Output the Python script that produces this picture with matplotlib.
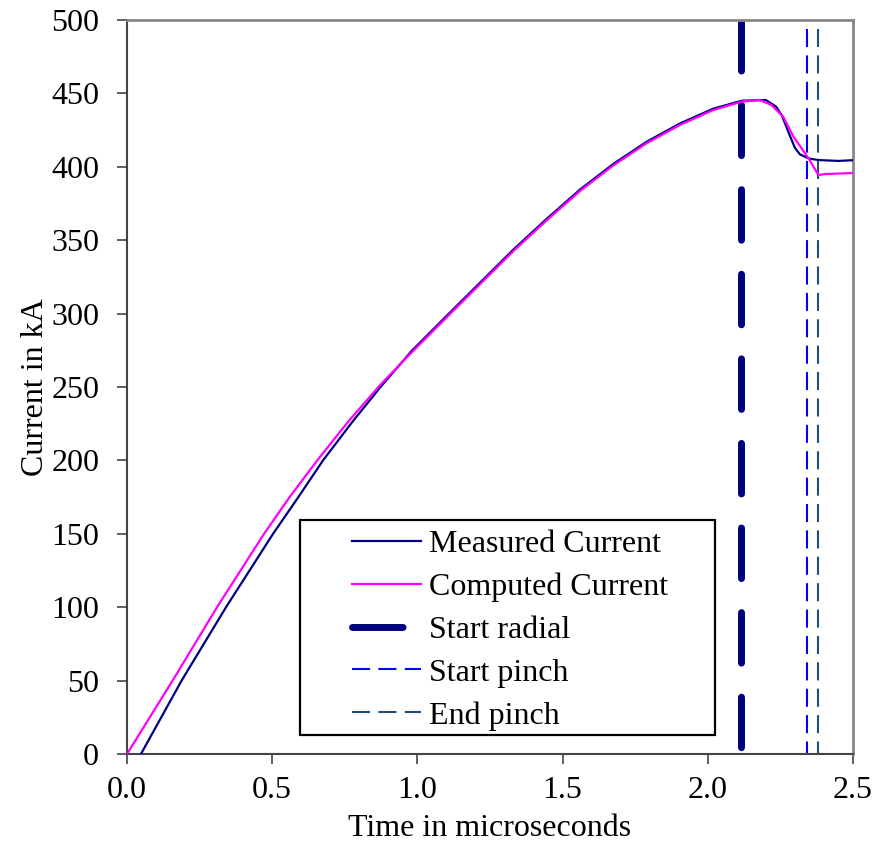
import matplotlib
matplotlib.use("Agg")
import matplotlib.pyplot as plt
from matplotlib.patches import Rectangle

plt.rcParams['font.family'] = ['Liberation Serif', 'DejaVu Serif']
plt.rcParams['lines.scale_dashes'] = False

# Data
t_measured = [0.048, 0.188, 0.341, 0.503, 0.59, 0.675, 0.775, 0.875, 0.98, 1.101, 1.2155,
              1.330, 1.445, 1.560, 1.675, 1.789, 1.904, 2.019, 2.117, 2.20, 2.235,
              2.255, 2.271, 2.285, 2.30, 2.317, 2.347, 2.381, 2.45, 2.5]
I_measured = [0, 50, 100, 150, 175, 200, 226, 250.5, 274.5, 298.5, 321,
              343.5, 364.5, 384.5, 402, 417, 429.5, 439.6, 445, 445.5, 441,
              435, 427, 420, 413, 408.5, 405.7, 404.6, 404, 404.5]

t_computed = [0, 0.157, 0.31, 0.472, 0.56, 0.655, 0.76, 0.87, 0.98, 1.101, 1.2155,
              1.330, 1.445, 1.560, 1.675, 1.789, 1.904, 2.019, 2.117, 2.18, 2.22,
              2.26, 2.295, 2.347, 2.381, 2.40, 2.5]
I_computed = [0, 50, 100, 150, 175, 200, 226, 251, 273.5, 297.5, 320,
              342.5, 363.5, 383.5, 401, 416, 428.5, 438.7, 444.4, 445.5, 442,
              434, 420.5, 405.7, 394.4, 395, 395.8]

t_start_radial = 2.114
t_start_pinch = 2.342
t_end_pinch = 2.379

x_ticks = [0.0, 0.5, 1.0, 1.5, 2.0, 2.5]
y_ticks = [0, 50, 100, 150, 200, 250, 300, 350, 400, 450, 500]

FS = 23

fig = plt.figure(figsize=(8.72, 8.52), dpi=100)
ax = fig.add_axes([127/872, 98/852, 726/872, 734/852])

ax.plot(t_measured, I_measured, color='#000080', lw=1.6, label='Measured Current', zorder=3)
ax.plot(t_computed, I_computed, color='#FF00FF', lw=1.6, label='Computed Current', zorder=3)
ax.plot([t_start_radial, t_start_radial], [500, 0], color='#000080', lw=5,
        dashes=(36.4, 24.5), dash_capstyle='round', solid_capstyle='round',
        label='Start radial', zorder=2)
ax.plot([t_start_pinch, t_start_pinch], [494, 0], color='#0000FF', lw=1.5,
        dashes=(13, 6), label='Start pinch', zorder=2)
ax.plot([t_end_pinch, t_end_pinch], [494, 0], color='#1F4E79', lw=1.5,
        dashes=(13, 6), label='End pinch', zorder=2)

ax.set_xlim(0, 2.5)
ax.set_ylim(0, 500)
ax.set_xticks(x_ticks)
ax.set_xticklabels([f"{v:.1f}" for v in x_ticks])
ax.set_yticks(y_ticks)
ax.set_yticklabels([str(v) for v in y_ticks])
ax.tick_params(direction='out', length=7, width=1.2, color='#444444', labelsize=FS)
ax.tick_params(axis='x', pad=9)
ax.tick_params(axis='y', pad=13)

for s in ['left', 'bottom']:
    ax.spines[s].set_color('#444444')
    ax.spines[s].set_linewidth(1.5)
for s in ['top', 'right']:
    ax.spines[s].set_color('#888888')
    ax.spines[s].set_linewidth(2)

ax.set_xlabel('Time in microseconds', fontsize=FS, labelpad=6)
ax.set_ylabel('Current in kA', fontsize=FS, labelpad=1)

# legend box
rect = Rectangle((0.238, 0.026), 0.572, 0.293, transform=ax.transAxes,
                 facecolor='white', edgecolor='black', lw=1.6, zorder=5)
ax.add_patch(rect)
leg = ax.legend(loc='upper left', bbox_to_anchor=(0.31, 0.3055), frameon=False,
                fontsize=FS, handlelength=2.15, handletextpad=0.25,
                labelspacing=0.42, borderpad=0, borderaxespad=0)
leg.set_zorder(6)

fig.savefig('out.png', dpi=100)
